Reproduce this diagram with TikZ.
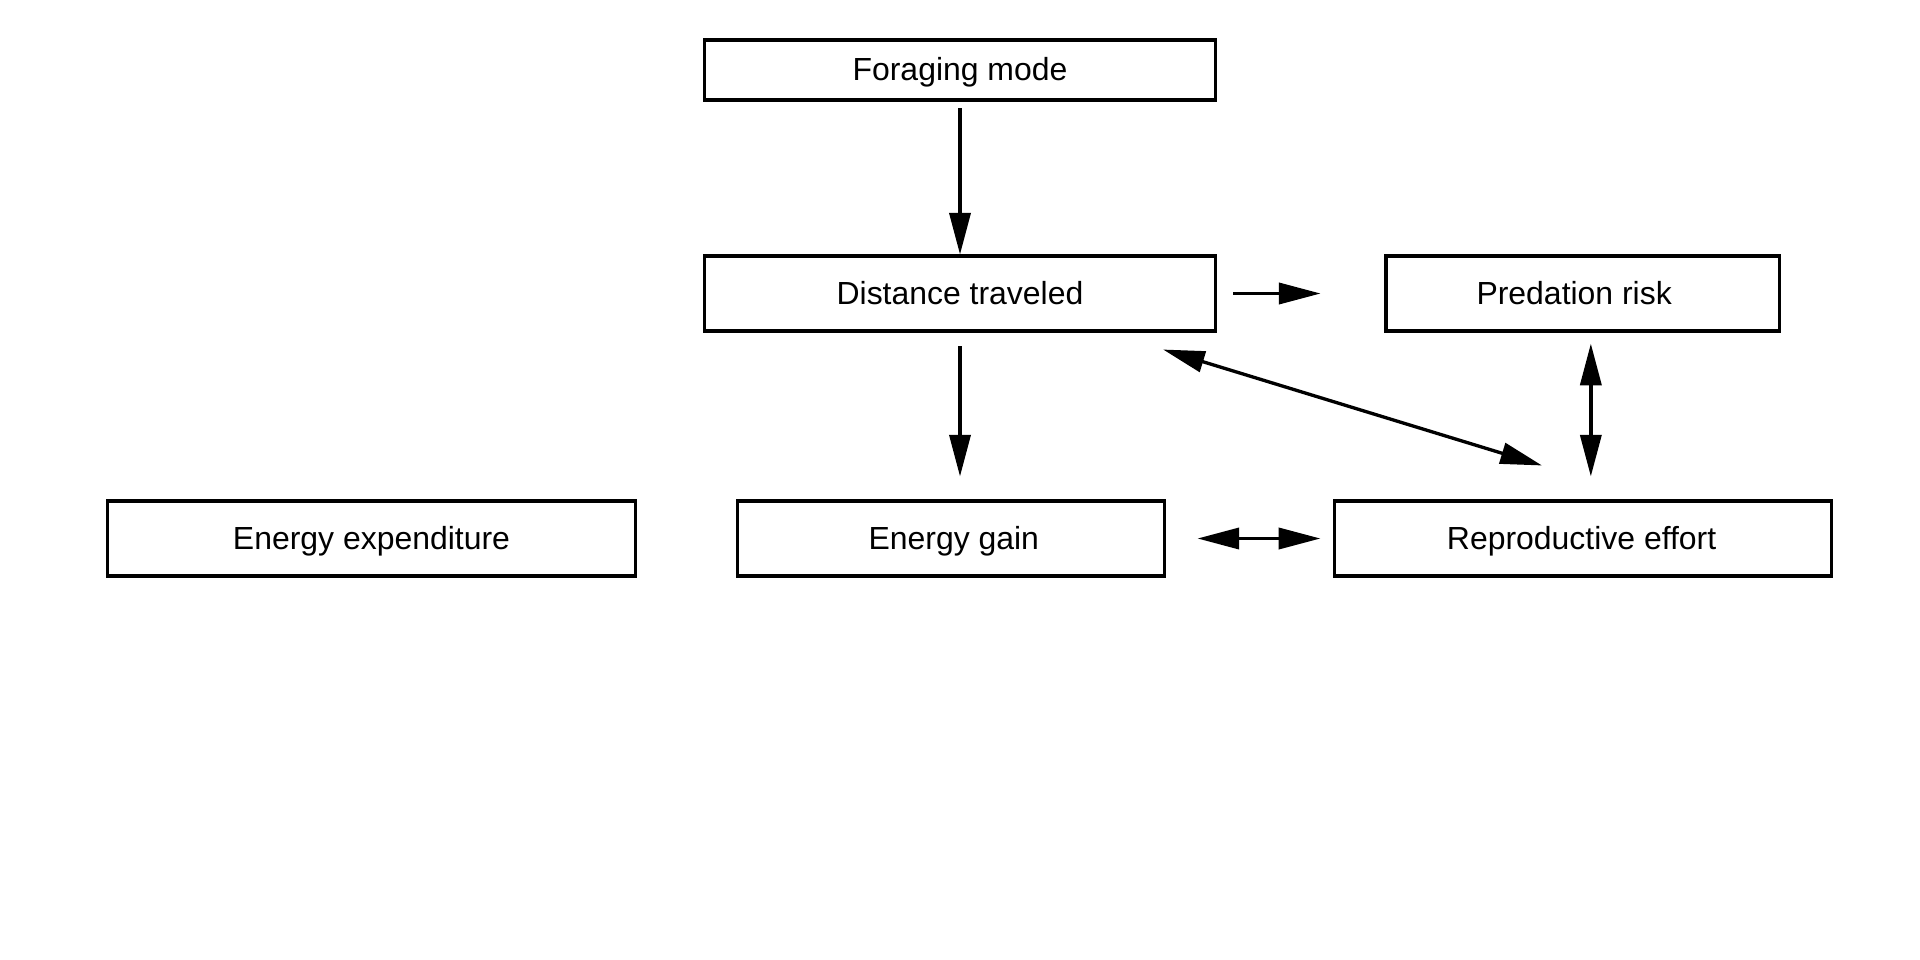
\documentclass[tikz,border=0pt]{standalone}
\usepackage{fontspec}
\setmainfont{Liberation Sans}
\usetikzlibrary{arrows.meta}
\tikzset{
    box/.style={draw, line width=1.1pt, minimum height=27pt, inner sep=0pt, text height=9.8pt, text depth=2pt, font=\fontsize{11.5}{13}\selectfont},
    arr/.style={line width=1.2pt, -{Triangle[length=15pt, width=7.6pt]}},
    darr/.style={line width=1.2pt, {Triangle[length=15pt, width=7.6pt]}-{Triangle[length=15pt, width=7.6pt]}}
}
\begin{document}
\begin{tikzpicture}[x=0.36pt, y=-0.36pt]
    \useasboundingbox (0,0) rectangle (1920,960);
    \node[box, minimum width=184pt, minimum height=21.6pt] (fm) at (960,70) {Foraging mode};
    \node[box, minimum width=184pt] (dt) at (960,293.5) {Distance traveled};
    \node[box, minimum width=141.5pt] (pr) at (1582.5,293.5) {Predation risk\kern6pt};
    \node[box, minimum width=190.4pt] (ee) at (371.5,538.5) {Energy expenditure};
    \node[box, minimum width=154pt] (eg) at (951,538.5) {\hspace{2pt}Energy gain};
    \node[box, minimum width=178.6pt] (re) at (1583,538.5) {Reproductive effort\kern1pt};
    % arrows
    \draw[arr, shorten <=2.5pt] (fm.south) -- (dt.north);
    \draw[arr, shorten <=5.8pt, shorten >=23pt] (dt.east) -- (pr.west);
    \draw[arr, shorten <=5pt, shorten >=8.3pt] (dt.south) -- (dt.south |- eg.north);
    \draw[darr] ([shift={(-54,17)}]dt.south east) -- ([shift={(-41,-34)}]re.north);
    \draw[darr, shorten <=4pt, shorten >=8.3pt] ([xshift=3pt]pr.south) -- ([xshift=3pt]pr.south |- re.north);
    \draw[darr, shorten <=11.2pt, shorten >=4.7pt] (eg.east) -- (re.west);
\end{tikzpicture}
\end{document}
